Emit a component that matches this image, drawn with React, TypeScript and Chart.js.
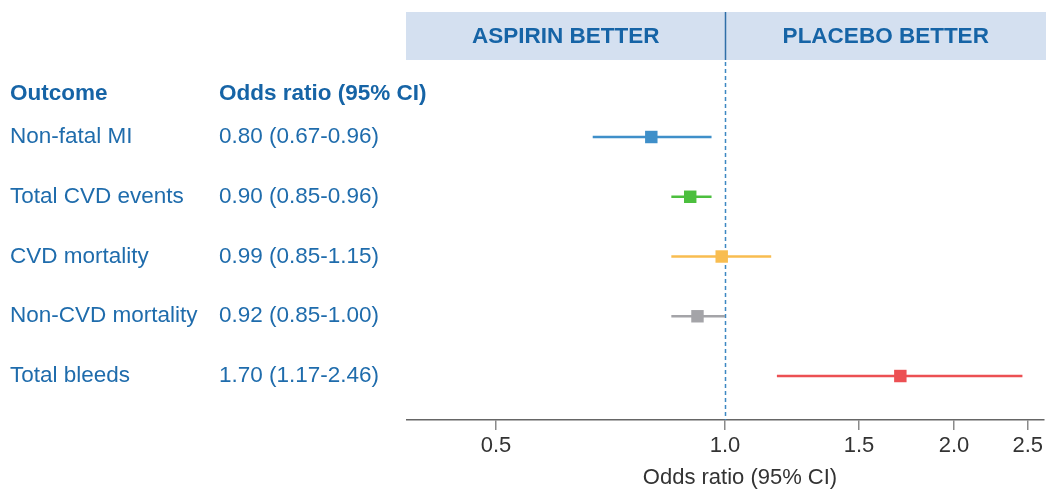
import { useEffect, useRef } from "react";
import { Chart, registerables } from "chart.js";

Chart.register(...registerables);

const outcomes = ["Non-fatal MI", "Total CVD events", "CVD mortality", "Non-CVD mortality", "Total bleeds"];
const ciLabels = ["0.80 (0.67-0.96)", "0.90 (0.85-0.96)", "0.99 (0.85-1.15)", "0.92 (0.85-1.00)", "1.70 (1.17-2.46)"];
const oddsRatio = [0.8, 0.9, 0.99, 0.92, 1.7];
const ciLow = [0.67, 0.85, 0.85, 0.85, 1.17];
const ciHigh = [0.96, 0.96, 1.15, 1.0, 2.46];
const seriesColors = ["#3f8fc9", "#4cbf3e", "#f8bd50", "#a4a4a8", "#ec5053"];
const xTicks = [0.5, 1.0, 1.5, 2.0, 2.5];
const headerLabels = ["Outcome", "Odds ratio (95% CI)"];
const bannerLabels = ["ASPIRIN BETTER", "PLACEBO BETTER"];
const axisTitle = "Odds ratio (95% CI)";

const FONT = "'Liberation Sans', Arial, Helvetica, sans-serif";
const TEXT_BLUE = "#1f6cac";
const HEAD_BLUE = "#1664a6";

const forestPlugin = {
  id: "forest",
  beforeDatasetsDraw(chart: any) {
    const { ctx, chartArea } = chart;
    const xs = chart.scales.x;
    const ref = Math.round(xs.getPixelForValue(1)) + 0.5;
    const bTop = 12;
    const bBot = 60;
    const bLeft = chartArea.left - 1;
    const bRight = chartArea.right + 2;
    ctx.save();
    ctx.fillStyle = "#d4e0f0";
    ctx.fillRect(bLeft, bTop, bRight - bLeft, bBot - bTop);
    ctx.font = `bold 22.5px ${FONT}`;
    ctx.fillStyle = HEAD_BLUE;
    ctx.textAlign = "center";
    ctx.textBaseline = "middle";
    ctx.fillText(bannerLabels[0], (bLeft + ref) / 2, (bTop + bBot) / 2 + 1);
    ctx.fillText(bannerLabels[1], (ref + bRight) / 2, (bTop + bBot) / 2 + 1);
    // divider
    ctx.strokeStyle = "#2f6fa8";
    ctx.lineWidth = 1.5;
    ctx.beginPath();
    ctx.moveTo(ref, bTop);
    ctx.lineTo(ref, bBot);
    ctx.stroke();
    // dashed reference line
    ctx.strokeStyle = "#3d88c2";
    ctx.setLineDash([4, 3]);
    ctx.beginPath();
    ctx.moveTo(ref, bBot + 2);
    ctx.lineTo(ref, chartArea.bottom);
    ctx.stroke();
    ctx.restore();
  },
  afterDraw(chart: any) {
    const { ctx } = chart;
    const ys = chart.scales.y;
    ctx.save();
    ctx.textAlign = "left";
    ctx.textBaseline = "middle";
    ctx.font = `bold 22.5px ${FONT}`;
    ctx.fillStyle = HEAD_BLUE;
    const hy = ys.getPixelForValue(-0.72);
    ctx.fillText(headerLabels[0], 10, hy);
    ctx.fillText(headerLabels[1], 219, hy);
    ctx.font = `22.5px ${FONT}`;
    ctx.fillStyle = TEXT_BLUE;
    outcomes.forEach((o, i) => {
      const py = ys.getPixelForValue(i);
      ctx.fillText(o, 10, py);
      ctx.fillText(ciLabels[i], 219, py);
    });
    ctx.font = `22px ${FONT}`;
    ctx.fillStyle = "#333333";
    ctx.textAlign = "center";
    ctx.fillText(axisTitle, 740, 478);
    ctx.restore();
  },
};

export default function App() {
  const ref = useRef<HTMLCanvasElement | null>(null);
  useEffect(() => {
    if (!ref.current) return;
    const ciDatasets = outcomes.map((o, i) => ({
      type: "line" as const,
      label: o + " CI",
      data: [
        { x: ciLow[i], y: i },
        { x: ciHigh[i], y: i },
      ],
      borderColor: seriesColors[i],
      borderWidth: 2.5,
      pointRadius: 0,
      showLine: true,
      fill: false,
    }));
    const pointDataset = {
      type: "scatter" as const,
      label: "Odds ratio",
      data: oddsRatio.map((v, i) => ({ x: v, y: i })),
      backgroundColor: seriesColors,
      borderColor: seriesColors,
      borderWidth: 0,
      pointStyle: "rect",
      pointRadius: 8.8,
    };
    const chart = new Chart(ref.current, {
      type: "scatter",
      data: { datasets: [...ciDatasets, pointDataset] as any },
      options: {
        animation: false,
        responsive: false,
        devicePixelRatio: 1,
        layout: { padding: { left: 407, right: 20, top: 12, bottom: 0 } },
        plugins: { legend: { display: false }, tooltip: { enabled: false } },
        scales: {
          x: {
            type: "logarithmic",
            min: 0.3819,
            max: 2.626,
            afterBuildTicks: (scale: any) => {
              scale.ticks = xTicks.map((v) => ({ value: v }));
            },
            afterFit: (scale: any) => {
              scale.height = 74;
            },
            ticks: {
              callback: (v: any) => Number(v).toFixed(1),
              font: { family: FONT, size: 22 },
              color: "#333333",
              padding: 3,
              autoSkip: false,
              maxRotation: 0,
            },
            grid: {
              drawOnChartArea: false,
              drawTicks: true,
              tickLength: 10,
              color: "#8a8a8a",
              lineWidth: 1.5,
            },
            border: { display: true, color: "#666666", width: 1.5 },
          },
          y: {
            type: "linear",
            reverse: true,
            min: -2.092,
            max: 4.736,
            display: false,
          },
        },
      } as any,
      plugins: [forestPlugin],
    });
    return () => chart.destroy();
  }, []);
  return (
    <div style={{ position: "absolute", left: 0, top: 0, width: 1064, height: 494, background: "#ffffff" }}>
      <canvas ref={ref} width={1064} height={494} style={{ display: "block" }} />
    </div>
  );
}
